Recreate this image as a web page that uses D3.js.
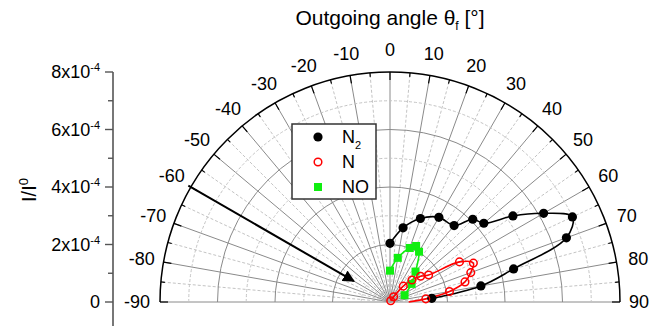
<!DOCTYPE html>
<html>
<head>
<meta charset="utf-8">
<script src="https://cdn.jsdelivr.net/npm/d3@7"></script>
<style>
  body { margin: 0; background: #fff; }
  svg { display: block; font-family: "Liberation Sans", Arial, sans-serif; }
</style>
</head>
<body>
<div id="chart"></div>
<script>
// N2 (black filled circles), angle in degrees, intensity in 1e-4
var n2Angle = [0, 10, 20, 30, 40, 45, 50, 55, 60, 65, 70, 75, 80, 85];
var n2Value = [2.04, 2.62, 3.09, 3.40, 3.47, 4.07, 4.26, 5.22, 6.17, 7.00, 6.53, 4.45, 3.21, 1.46];

// N (red open circles); last point has no marker drawn
var nAngle = [30, 35, 40, 45, 50, 55, 60, 65, 70, 75, 80, 85, 90];
var nValue = [0.05, 0.22, 0.72, 1.08, 1.39, 1.64, 2.79, 3.20, 2.99, 2.70, 2.10, 1.25, 0.65];

// NO (green squares)
var noAngle = [0, 10, 20, 25, 30, 40, 50, 65];
var noValue = [1.09, 1.56, 2.00, 2.15, 2.02, 1.38, 0.98, 0.56];

var angleTicks = [-90, -80, -70, -60, -50, -40, -30, -20, -10, 0, 10, 20, 30, 40, 50, 60, 70, 80, 90];
var yTicks = [0, 2, 4, 6, 8];
var beamAngle = -60;
var beamFrom = 8.1, beamTo = 1.45;

var width = 662, height = 326;
var cx = 390, cy = 302, R = 230;

var svg = d3.select('#chart').append('svg')
    .attr('width', width)
    .attr('height', height);

var r = d3.scaleLinear().domain([0, 8]).range([0, R]);
var y = d3.scaleLinear().domain([0, 8]).range([cy, cy - R]);
var rad = function(a) { return a * Math.PI / 180; };

var g = svg.append('g').attr('transform', 'translate(' + cx + ',' + cy + ')');

// Radial spokes every 5 degrees
d3.range(-90, 91, 5).forEach(function(a) {
    var major = a % 10 === 0;
    g.append('line')
        .attr('x1', 0).attr('y1', 0)
        .attr('x2', r(8) * Math.sin(rad(a)))
        .attr('y2', -r(8) * Math.cos(rad(a)))
        .style('stroke', major ? '#8a8a8a' : '#c4c4c4')
        .style('stroke-width', 1)
        .style('stroke-dasharray', major ? null : '3,2');
});

// Half circles
function halfCircle(v) {
    var rr = r(v);
    return 'M' + (-rr) + ',0A' + rr + ',' + rr + ' 0 0 1 ' + rr + ',0';
}
d3.range(1, 8).forEach(function(v) {
    var major = v % 2 === 0;
    g.append('path')
        .attr('d', halfCircle(v))
        .style('fill', 'none')
        .style('stroke', major ? '#8a8a8a' : '#c4c4c4')
        .style('stroke-width', 1)
        .style('stroke-dasharray', major ? null : '3,2');
});

// Outer circle
g.append('path')
    .attr('d', halfCircle(8))
    .style('fill', 'none')
    .style('stroke', '#000')
    .style('stroke-width', 1.5);

// Ticks on the outer circle
d3.range(-90, 91, 5).forEach(function(a) {
    var len = a % 10 === 0 ? 8 : 4;
    g.append('line')
        .attr('x1', r(8) * Math.sin(rad(a)))
        .attr('y1', -r(8) * Math.cos(rad(a)))
        .attr('x2', (r(8) - len) * Math.sin(rad(a)))
        .attr('y2', -(r(8) - len) * Math.cos(rad(a)))
        .style('stroke', '#000')
        .style('stroke-width', 1.2);
});

// Angle labels
angleTicks.forEach(function(a) {
    var lr = r(8) + 22;
    g.append('text')
        .attr('x', lr * Math.sin(rad(a)) + (a === -90 ? -1 : a === 90 ? -3 : 0))
        .attr('y', -lr * Math.cos(rad(a)))
        .attr('dy', '0.35em')
        .attr('text-anchor', 'middle')
        .style('font-size', '18px')
        .style('fill', '#000')
        .text(a);
});

// Incoming beam arrow
svg.append('defs').append('marker')
    .attr('id', 'arrow')
    .attr('viewBox', '0 0 10 10')
    .attr('refX', 9).attr('refY', 5)
    .attr('markerWidth', 6).attr('markerHeight', 6)
    .attr('orient', 'auto')
    .append('path')
    .attr('d', 'M0,0L10,5L0,10z')
    .style('fill', '#000');

g.append('line')
    .attr('x1', r(beamFrom) * Math.sin(rad(beamAngle)))
    .attr('y1', -r(beamFrom) * Math.cos(rad(beamAngle)))
    .attr('x2', r(beamTo) * Math.sin(rad(beamAngle)))
    .attr('y2', -r(beamTo) * Math.cos(rad(beamAngle)))
    .attr('marker-end', 'url(#arrow)')
    .style('stroke', '#000')
    .style('stroke-width', 2);

// Series curves
var radialLine = d3.lineRadial()
    .angle(function(d) { return rad(d.a); })
    .radius(function(d) { return r(d.v); })
    .curve(d3.curveCatmullRom.alpha(0.5));

function toPoints(angles, values) {
    return angles.map(function(a, i) { return { a: a, v: values[i] }; });
}
var n2Data = toPoints(n2Angle, n2Value);
var nData = toPoints(nAngle, nValue);
var noData = toPoints(noAngle, noValue);

var black = '#000', red = '#ff0000', green = '#10ee10';

g.append('path').datum(n2Data).attr('d', radialLine)
    .style('fill', 'none').style('stroke', black).style('stroke-width', 1.6);
g.append('path').datum(nData).attr('d', radialLine)
    .style('fill', 'none').style('stroke', red).style('stroke-width', 1.6);
g.append('path').datum(noData).attr('d', radialLine)
    .style('fill', 'none').style('stroke', green).style('stroke-width', 1.6);

function px(d) { return r(d.v) * Math.sin(rad(d.a)); }
function py(d) { return -r(d.v) * Math.cos(rad(d.a)); }

g.selectAll('.n2').data(n2Data).enter().append('circle')
    .attr('cx', px).attr('cy', py).attr('r', 4.6)
    .style('fill', black);

g.selectAll('.no').data(noData).enter().append('rect')
    .attr('x', function(d) { return px(d) - 4; })
    .attr('y', function(d) { return py(d) - 4; })
    .attr('width', 8).attr('height', 8)
    .style('fill', green);

g.selectAll('.nn').data(nData.filter(function(d) { return d.a < 90; })).enter().append('circle')
    .attr('cx', px).attr('cy', py).attr('r', 3.8)
    .style('fill', 'none')
    .style('stroke', red)
    .style('stroke-width', 1.5);

// Left intensity axis
var axisX = 113;
svg.append('line')
    .attr('x1', axisX).attr('x2', axisX)
    .attr('y1', y(8)).attr('y2', height)
    .style('stroke', '#555')
    .style('stroke-width', 1.6);

d3.range(0, 9, 1).forEach(function(v) {
    var len = v % 2 === 0 ? 8 : 5;
    svg.append('line')
        .attr('x1', axisX - len).attr('x2', axisX)
        .attr('y1', y(v)).attr('y2', y(v))
        .style('stroke', '#555')
        .style('stroke-width', 1.4);
});

yTicks.forEach(function(v) {
    var t = svg.append('text')
        .attr('x', 100)
        .attr('y', y(v))
        .attr('dy', '0.35em')
        .attr('text-anchor', 'end')
        .style('font-size', '18px')
        .style('fill', '#000');
    if (v === 0) {
        t.text('0');
    } else {
        t.append('tspan').text(v + 'x10');
        t.append('tspan').attr('dy', -7).style('font-size', '11px').text('-4');
    }
});

// Y label
var yl = svg.append('text')
    .attr('transform', 'translate(36,190) rotate(-90)')
    .attr('text-anchor', 'middle')
    .style('font-size', '20px')
    .style('fill', '#000');
yl.append('tspan').text('I/I');
yl.append('tspan').attr('dy', -8).style('font-size', '13px').text('0');

// Title
var title = svg.append('text')
    .attr('x', 390)
    .attr('y', 25)
    .attr('text-anchor', 'middle')
    .style('font-size', '21px')
    .style('fill', '#000');
title.append('tspan').text('Outgoing angle θ');
title.append('tspan').attr('dy', 5).style('font-size', '12px').text('f');
title.append('tspan').attr('dy', -5).text(' [°]');

// Legend
var legend = svg.append('g').attr('transform', 'translate(292,124)');
legend.append('rect')
    .attr('width', 84).attr('height', 75)
    .style('fill', '#fff')
    .style('stroke', '#333')
    .style('stroke-width', 1.5);

var legendItems = [
    { label: 'N', sub: '2', type: 'n2' },
    { label: 'N', sub: null, type: 'n' },
    { label: 'NO', sub: null, type: 'no' }
];
legendItems.forEach(function(item, i) {
    var ly = 13 + i * 25;
    if (item.type === 'n2') {
        legend.append('circle').attr('cx', 26).attr('cy', ly).attr('r', 4.6).style('fill', black);
    } else if (item.type === 'n') {
        legend.append('circle').attr('cx', 26).attr('cy', ly).attr('r', 3.8)
            .style('fill', 'none').style('stroke', red).style('stroke-width', 1.5);
    } else {
        legend.append('rect').attr('x', 22).attr('y', ly - 4).attr('width', 8).attr('height', 8)
            .style('fill', green);
    }
    var t = legend.append('text')
        .attr('x', 50)
        .attr('y', ly)
        .attr('dy', '0.35em')
        .style('font-size', '18px')
        .style('fill', '#000');
    t.append('tspan').text(item.label);
    if (item.sub) {
        t.append('tspan').attr('dy', 6).style('font-size', '11px').text(item.sub);
    }
});
</script>
</body>
</html>
